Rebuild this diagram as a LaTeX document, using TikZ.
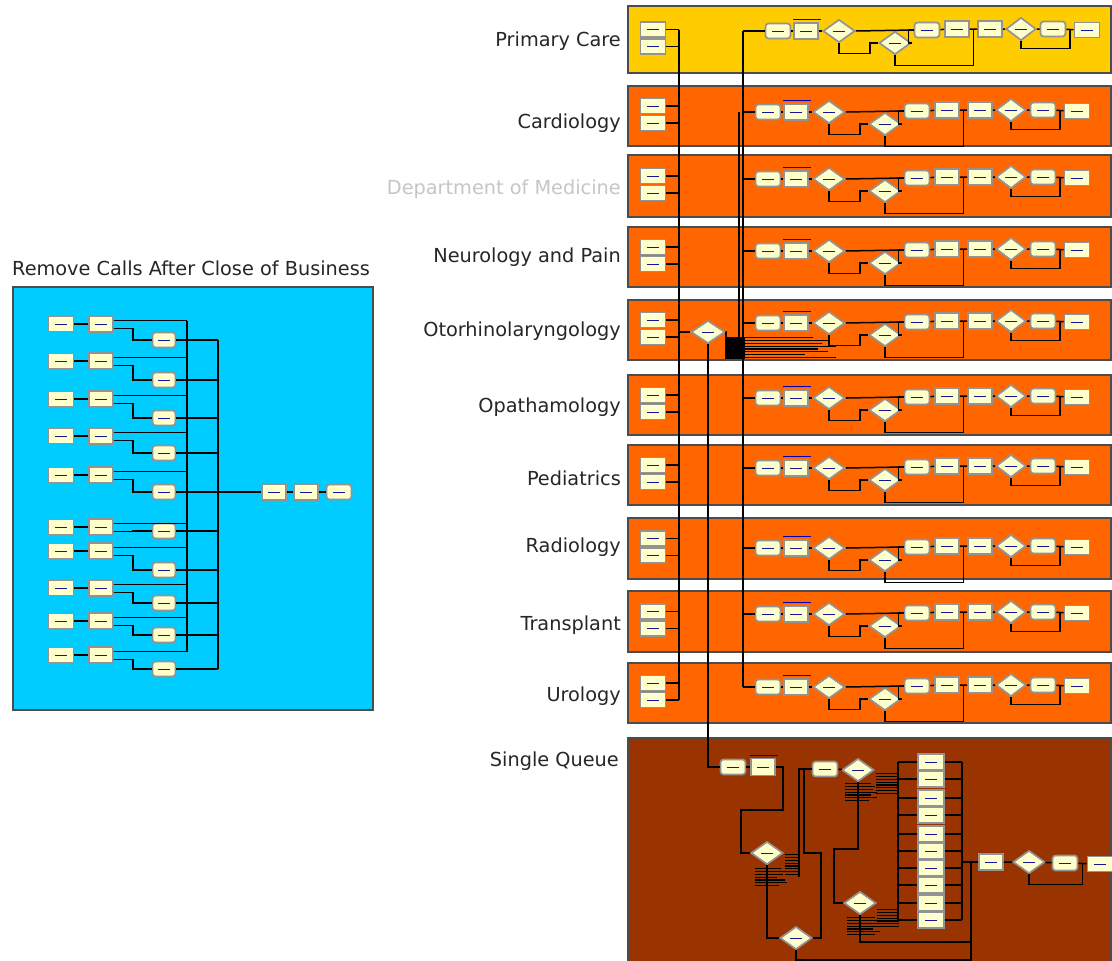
\documentclass[tikz,border=0pt]{standalone}
\usepackage{fontspec}
\setmainfont{DejaVu Sans}
\usepackage{tikz}
\usetikzlibrary{shapes.geometric, calc}

\definecolor{pcyellow}{RGB}{255,204,0}
\definecolor{deptorange}{RGB}{255,102,0}
\definecolor{sqbrown}{RGB}{153,51,0}
\definecolor{cobblue}{RGB}{0,204,255}
\definecolor{modcream}{RGB}{255,255,204}
\definecolor{modblue}{RGB}{20,20,150}

% one department band: name, top, height, colour, label, label y, chain shift
\newcommand{\deptrow}[7]{%
  \begin{scope}[shift={(0,#2)}]
    \draw[band, fill=#4] (628,0) rectangle (1111,#3);
    \node[deptlabel] (#1lab) at (621,#6) {#5};
    \node[srcbox] (#1s1) at (653,{#3/2-10}) {};
    \node[srcbox] (#1s2) at (653,{#3/2+7}) {};
    \draw[conn] (#1s1.east) -- (#1s1.east -| trunk);
    \draw[conn] (#1s2.east) -- (#1s2.east -| trunk);
    \begin{scope}[shift={#7}]
      \node[procbox] (#1a) at (768,24) {};
      \node[recbox] (#1b) at (796,24) {};
      \node[decdia] (#1d1) at (829,24) {};
      \node[decdia] (#1d2) at (885,36) {};
      \node[procbox] (#1c) at (917,23) {};
      \node[recbox] (#1d) at (947,22) {};
      \node[recbox] (#1e) at (980,22) {};
      \node[decdia, minimum width=30pt] (#1d3) at (1011,22) {};
      \node[procbox] (#1f) at (1043,22) {};
      \node[srcbox] (#1g) at (1077,23) {};
      \coordinate (#1de) at ($(#1d.east)!.5!(#1e.west)$);
      \coordinate (#1fg) at ($(#1f.east)!.5!(#1g.west)$);
      \draw[recline] ([yshift=2.5pt]#1b.north west) -- ([yshift=2.5pt,xshift=2pt]#1b.north east);
      \draw[conn] (#1a) -- (#1b) -- (#1d1);
      \draw[conn] (#1d1.east) -- (#1c.west);
      \draw[conn] (#1d1.south) -- ++(0,10) -| ([xshift=-8pt]#1d2.west) -- (#1d2.west);
      \draw[conn] (#1d2.east) -| ([xshift=-5pt]#1c.west) -- (#1c.west);
      \draw[conn] (#1c) -- (#1d) -- (#1e) -- (#1d3) -- (#1f) -- (#1g);
      \draw[conn] (#1d2.south) -- ++(0,10) -| (#1de);
      \draw[conn] (#1d3.south) -- ++(0,7) -| (#1fg);
    \end{scope}
    \draw[conn] (#1a.west -| bus) -- (#1a.west);
  \end{scope}}

% rows of short black lines (decide outputs and their names)
\newcommand{\outlines}[3]{%
  \foreach \k/\w in {#3}
    \draw[line width=1.3pt] (#1,{#2+2.8*\k}) -- ({#1+\w},{#2+2.8*\k});}

\begin{document}
\begin{tikzpicture}[x=1pt, y=-1pt,
    band/.style={draw=black!70, line width=1.3pt},
    deptlabel/.style={anchor=east, inner sep=0pt, text=black!85, font=\fontsize{19.3}{23}\selectfont},
    module/.style={draw=gray!85, line width=1.7pt, fill=modcream, inner sep=0pt,
      path picture={\draw[modblue, line width=0.8pt]
        ([xshift=-6pt]path picture bounding box.center) -- ([xshift=6pt]path picture bounding box.center);}},
    srcbox/.style={module, rectangle, minimum width=25pt, minimum height=15pt},
    procbox/.style={module, rectangle, rounded corners=3pt, minimum width=25pt, minimum height=15pt},
    recbox/.style={module, rectangle, minimum width=24pt, minimum height=16pt},
    decdia/.style={module, diamond, minimum width=32pt, minimum height=23pt},
    conn/.style={draw=black, line width=1.5pt},
    recline/.style={draw=blue!70!black, line width=1.2pt}]

  \fill[white] (0,0) rectangle (1112,961);
  \useasboundingbox (0,0) rectangle (1112,961);

  \coordinate (trunk) at (679,0);
  \coordinate (bus) at (743,0);

  % Remove Calls After Close of Business
  \node[deptlabel, anchor=west] (cobtitle) at (12,268) {Remove Calls After Close of Business};
  \draw[band, fill=cobblue] (13,287) rectangle (373,710);
  \coordinate (cobt1) at (187,0);
  \coordinate (cobt2) at (218,0);
  \foreach \sy/\dy [count=\k] in {324/340, 361/380, 399/418, 436/453, 475/492,
                                  527/531, 551/570, 588/603, 621/635, 655/669} {
    \node[srcbox] (cs\k) at (61,\sy) {};
    \node[recbox, minimum height=16pt] (cm\k) at (101,\sy) {};
    \node[procbox, minimum width=23pt] (cd\k) at (164,\dy) {};
    \draw[conn] (cs\k) -- (cm\k);
    \draw[conn] (cm\k.15) -- (cm\k.15 -| cobt1);
    \draw[conn] (cm\k.-20) -- ++(19,0) |- (cd\k.west);
    \draw[conn] (cd\k.east) -- (cd\k.east -| cobt2);
  }
  \draw[conn] (cm1.15 -| cobt1) -- (cm10.15 -| cobt1);
  \draw[conn] (cd1.east -| cobt2) -- (cd10.east -| cobt2);
  \node[recbox] (cr1) at (274,492) {};
  \node[recbox] (cr2) at (306,492) {};
  \node[procbox] (cr3) at (339,492) {};
  \draw[conn] (cd5.east) -- (cr1.west);
  \draw[conn] (cr1) -- (cr2) -- (cr3);

  % Department bands
  \deptrow{pc}{6}{67}{pcyellow}{Primary Care}{35}{(10,1)}
  \deptrow{car}{86}{60}{deptorange}{Cardiology}{37}{(0,2)}
  \deptrow{med}{155}{62}{deptorange}{\color{gray!45}Department of Medicine}{34}{(0,0)}
  \deptrow{neu}{227}{60}{deptorange}{Neurology and Pain}{30}{(0,0)}
  \deptrow{oto}{300}{60}{deptorange}{Otorhinolaryngology}{31}{(0,-1)}
  \deptrow{opa}{375}{60}{deptorange}{Opathamology}{32}{(0,-1)}
  \deptrow{ped}{445}{60}{deptorange}{Pediatrics}{33}{(0,-1)}
  \deptrow{rad}{518}{61}{deptorange}{Radiology}{29}{(0,6)}
  \deptrow{tra}{591}{61}{deptorange}{Transplant}{34}{(0,-1)}
  \deptrow{uro}{663}{60}{deptorange}{Urology}{33}{(0,0)}

  % Calls routed by department
  \node[decdia, minimum width=34pt] (otodia) at (708,332) {};
  \draw[conn, line width=2.6pt] (pcs1.east -| trunk) -- (uros2.east -| trunk);
  \draw[conn] (otodia.west -| trunk) -- (otodia.west);
  \draw[conn] (pca.west -| bus) -- (uroa.west -| bus);
  \draw[conn] ([xshift=-4pt]cara.west -| bus) -- (739,357);
  \draw[conn] (otodia.east) -| (726,340);
  \fill (725,337) rectangle (745,359);
  \outlines{745}{335}{1/68, 2/85, 3/77, 4/91, 5/73, 6/83, 7/60, 8/91}

  % Single Queue
  \draw[band, fill=sqbrown] (628,738) rectangle (1111,966);
  \node[deptlabel] (sqlab) at (619,761) {Single Queue};
  \node[procbox] (sqa) at (733,767) {};
  \node[recbox, minimum height=17pt] (sqb) at (763,767) {};
  \node[procbox] (sqc) at (825,769) {};
  \node[decdia] (sqd2) at (858,770) {};
  \node[decdia] (sqd1) at (767,853) {};
  \node[decdia] (sqd4) at (860,903) {};
  \node[decdia] (sqd3) at (796,938) {};
  \foreach \yy [count=\k] in {762,779,798,815,834,851,868,885,903,920}
    \node[recbox, minimum width=26pt] (sqs\k) at (931,\yy) {};
  \node[recbox, minimum height=16pt] (sqe) at (991,862) {};
  \node[decdia] (sqd5) at (1029,862) {};
  \node[procbox] (sqf) at (1065,863) {};
  \node[srcbox] (sqg) at (1100,864) {};
  \coordinate (sqin) at (898,0);
  \coordinate (sqout) at (962,0);
  \coordinate (sqfg) at ($(sqf.east)!.5!(sqg.west)$);
  \draw[recline] ([yshift=2.5pt]sqb.north west) -- ([yshift=2.5pt,xshift=2pt]sqb.north east);

  \draw[conn] (otodia.south) |- (sqa.west);
  \draw[conn] (sqa) -- (sqb);
  \draw[conn] (sqb.east) -| (783,810) -| (741,853) -- (sqd1.west);
  \draw[conn] (sqd1.south) |- (sqd3.west);
  \draw[conn] (sqd3.east) -| (821,853) -| (804,769) -- (sqc.west);
  \draw[conn] (799,877) -- (799,769) -- (sqc.west);
  \draw[conn] (sqc) -- (sqd2);
  \draw[conn] (sqd2.south) |- (834,849) |- (sqd4.west);
  \draw[conn] (sqs1.west -| sqin) -- (sqs10.west -| sqin);
  \draw[conn] (sqs1.east -| sqout) -- (sqs10.east -| sqout);
  \foreach \k in {1,...,10}
    \draw[conn] (sqs\k.west -| sqin) -- (sqs\k.west) (sqs\k.east) -- (sqs\k.east -| sqout);
  \draw[conn] (sqe.west -| sqout) -- (sqe.west);
  \draw[conn] (sqd3.south) |- (971,960) |- (sqe.west);
  \draw[conn] (sqd4.south) |- (971,942);
  \draw[conn] (sqe) -- (sqd5) -- (sqf) -- (sqg);
  \draw[conn] (sqd5.south) -- ++(0,10) -| (sqfg);

  % decide outputs and their names
  \outlines{785}{852}{1/14, 2/14, 3/14, 4/14, 5/14, 6/14, 7/14, 8/14}
  \outlines{755}{866}{1/26, 2/30, 3/28, 4/22, 5/30, 6/32, 7/24}
  \outlines{876}{771}{1/22, 2/22, 3/22, 4/22, 5/22, 6/22, 7/22, 8/22}
  \outlines{845}{781}{1/26, 2/30, 3/28, 4/32, 5/26, 6/32, 7/24}
  \outlines{877}{907}{1/22, 2/22, 3/22, 4/22, 5/22, 6/22, 7/22}
  \outlines{847}{915}{1/28, 2/32, 3/30, 4/35, 5/26, 6/33, 7/28}
\end{tikzpicture}
\end{document}
